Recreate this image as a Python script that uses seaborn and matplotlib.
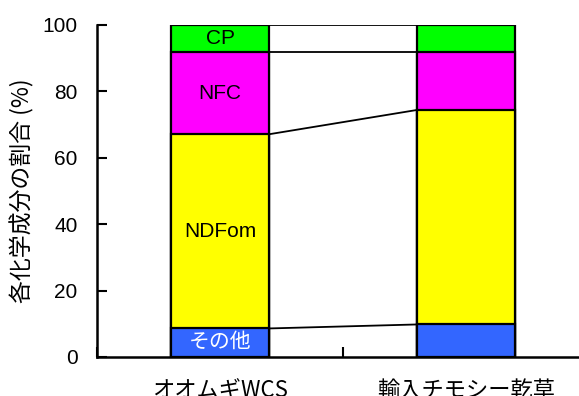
import matplotlib
matplotlib.use("Agg")
import matplotlib.pyplot as plt
import seaborn as sns
import numpy as np

categories = ["オオムギWCS", "輸入チモシー乾草"]
components = ["その他", "NDFom", "NFC", "CP"]
other = [8.6, 9.8]
ndfom = [58.5, 64.6]
nfc = [24.7, 17.4]
cp = [8.2, 8.2]
colors = ["#3366FF", "#FFFF00", "#FF00FF", "#00FF00"]
label_colors = ["white", "black", "black", "black"]
yticks = [0, 20, 40, 60, 80, 100]

sns.set_style("white")
plt.rcParams["font.family"] = ["Noto Sans CJK JP", "DejaVu Sans"]
plt.rcParams.update({
    "xtick.bottom": True, "ytick.left": True,
    "xtick.direction": "in", "ytick.direction": "in",
    "ytick.major.size": 7, "ytick.major.width": 1.5,
    "axes.axisbelow": False,
    "text.color": "black", "axes.labelcolor": "black",
    "xtick.color": "black", "ytick.color": "black",
})
latin = ["Liberation Sans", "Noto Sans CJK JP", "DejaVu Sans"]

fig = plt.figure(figsize=(5.79, 3.96), dpi=100)
ax = fig.add_axes([0.1675, 0.0985, 0.85, 0.8384])

layers = np.array([other, ndfom, nfc, cp])
cum = np.cumsum(layers, axis=0)
bar_w = 0.4

# draw the stack from the top layer down so each bar hides the one above's lower part
for i in range(len(components) - 1, -1, -1):
    sns.barplot(x=categories, y=cum[i], color=colors[i], edgecolor="black",
                linewidth=1.6, width=bar_w, saturation=1, ax=ax, zorder=2)

# series lines joining the layer boundaries
for i in range(len(components)):
    ax.plot([0 + bar_w / 2, 1 - bar_w / 2], [cum[i][0], cum[i][1]],
            color="black", linewidth=1.3, zorder=1)

# segment labels on the first bar
lower = np.vstack([np.zeros(2), cum[:-1]])
for i, name in enumerate(components):
    ymid = (lower[i][0] + cum[i][0]) / 2
    ax.text(0, ymid, name, ha="center", va="center", fontsize=15,
            color=label_colors[i], zorder=3, family=latin)

ax.set_xlim(-0.5, 1.5)
ax.set_ylim(0, 100)
ax.set_yticks(yticks)
ax.set_yticklabels([str(v) for v in yticks], fontsize=15, family=latin)
ax.set_xticks([0, 1])
ax.set_xticklabels(categories, fontsize=16)
ax.set_xticks([-0.5, 0.5, 1.5], minor=True)
ax.tick_params(axis="x", which="major", length=0, pad=16)
ax.tick_params(axis="x", which="minor", direction="in", length=7, width=1.5,
               color="black", bottom=True)
ax.tick_params(axis="y", which="major", direction="in", length=7, width=1.5,
               color="black", pad=14, left=True)
ax.set_ylabel("各化学成分の割合 (%)", fontsize=16.5, labelpad=6)
ax.set_xlabel("")

for side in ["top", "right"]:
    ax.spines[side].set_visible(False)
for side in ["left", "bottom"]:
    ax.spines[side].set_color("black")
    ax.spines[side].set_linewidth(1.8)
    ax.spines[side].set_zorder(4)

fig.savefig("out.png", dpi=100)
